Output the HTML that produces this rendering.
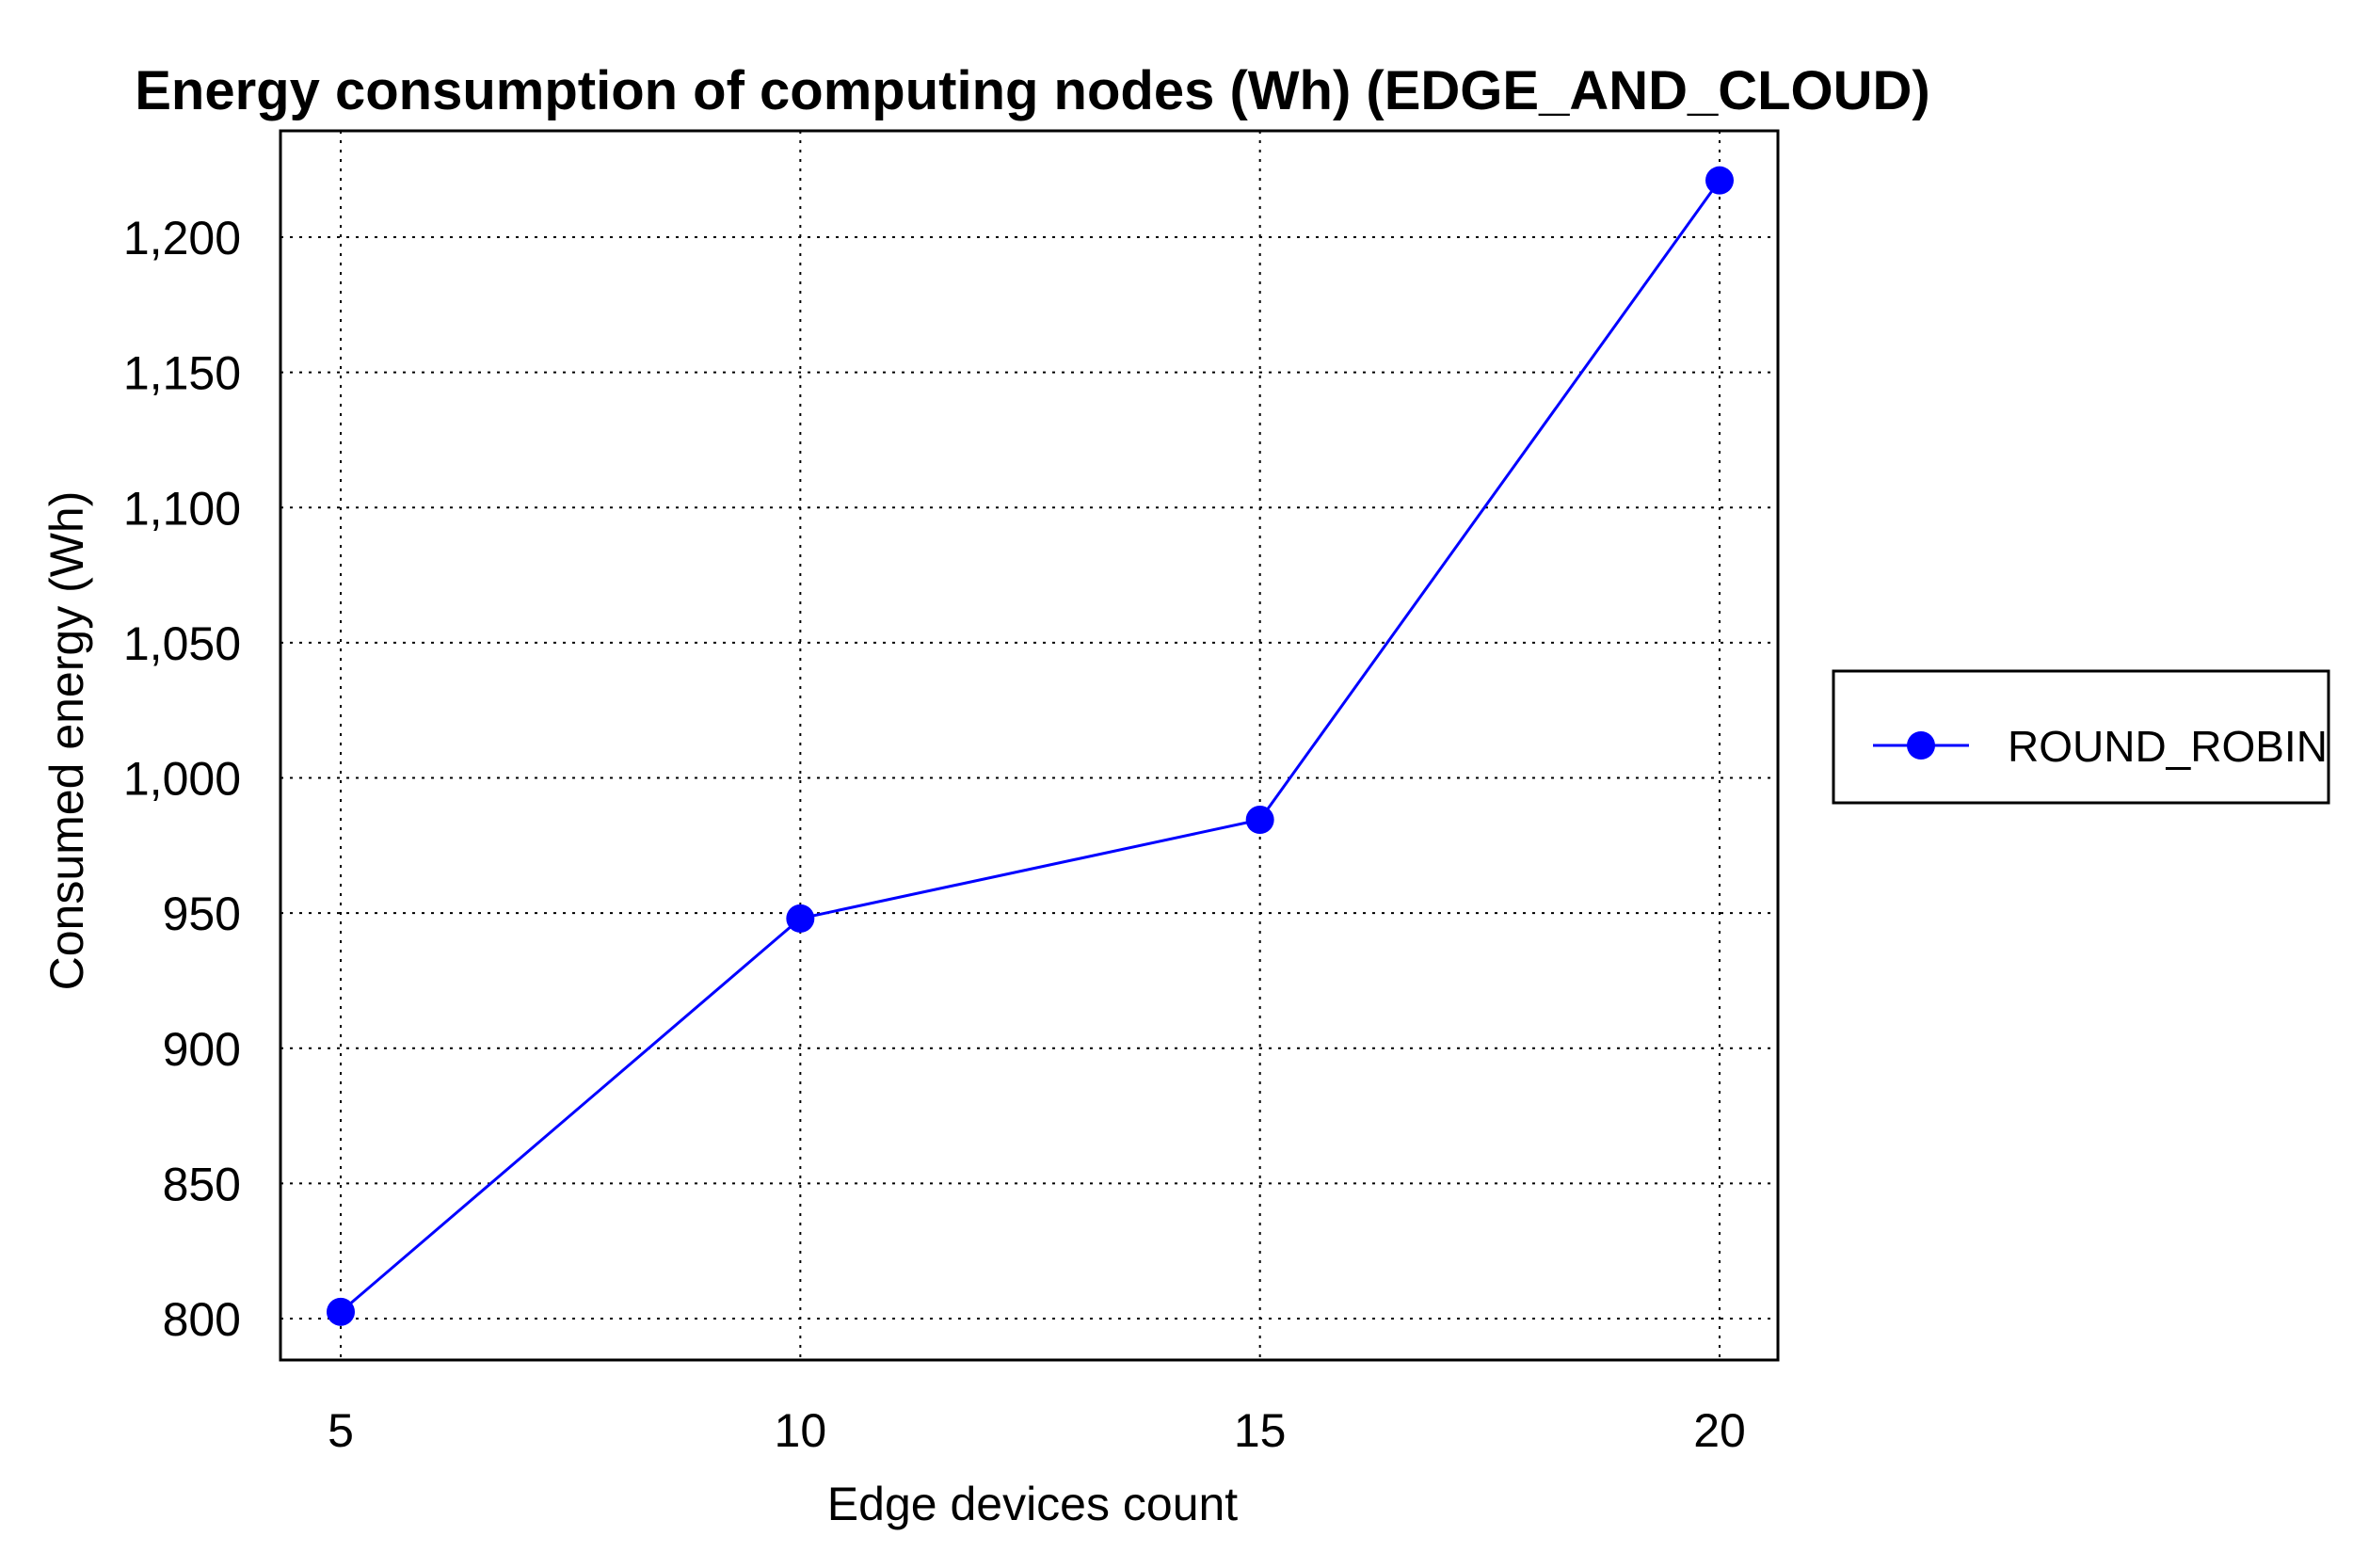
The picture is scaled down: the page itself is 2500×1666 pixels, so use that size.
<!DOCTYPE html>
<html><head><meta charset="utf-8"><style>
html,body{margin:0;padding:0;background:#fff;}
svg{display:block;font-family:"Liberation Sans",Arial,sans-serif;}
</style></head><body>
<svg id="chart" width="2500" height="1666" viewBox="0 0 2500 1666" xmlns="http://www.w3.org/2000/svg">
<rect width="2500" height="1666" fill="#fff"/>
<text x="1097" y="116" font-size="58" font-weight="bold" text-anchor="middle">Energy consumption of computing nodes (Wh) (EDGE_AND_CLOUD)</text>
<g id="grid"></g>
<g id="ticks"></g>
<rect x="298" y="139" width="1591" height="1306" fill="none" stroke="#000" stroke-width="3"/>
<g id="series"></g>
<text x="1097" y="1615" font-size="50" text-anchor="middle">Edge devices count</text>
<text transform="translate(88,787) rotate(-90)" font-size="50" text-anchor="middle">Consumed energy (Wh)</text>
<g>
<rect x="1948" y="713" width="526" height="140" fill="#fff" stroke="#000" stroke-width="3"/>
<line x1="1990" y1="792" x2="2092" y2="792" stroke="#0000ff" stroke-width="3"/>
<circle cx="2041" cy="792" r="15" fill="#0000ff"/>
<text x="2133" y="809" font-size="46">ROUND_ROBIN</text>
</g>
</svg>
<script>
const categories = [5, 10, 15, 20];
const values = [802.5, 948, 984.5, 1221];
const yTicks = [800, 850, 900, 950, 1000, 1050, 1100, 1150, 1200];
const yTickLabels = ["800", "850", "900", "950", "1,000", "1,050", "1,100", "1,150", "1,200"];

const NS = "http://www.w3.org/2000/svg";
function xScale(v){ return 362 + (v - 5) * (1827 - 362) / 15; }
function yScale(v){ return 1401 - (v - 800) * (1401 - 252) / 400; }
function mk(tag, attrs, parent){ const e = document.createElementNS(NS, tag); for (const k in attrs) e.setAttribute(k, attrs[k]); parent.appendChild(e); return e; }
const grid = document.getElementById('grid');
const ticks = document.getElementById('ticks');
const series = document.getElementById('series');

categories.forEach(c => {
  const x = xScale(c);
  const g = mk('line', {x1:x, y1:139, x2:x, y2:1445, stroke:'#000', 'stroke-width':2, 'stroke-dasharray':'3 7'}, grid);
  
  
  const t = mk('text', {x:x, y:1537, 'font-size':50, 'text-anchor':'middle'}, ticks);
  t.textContent = String(c);
  
  
});
yTicks.forEach((v, i) => {
  const y = yScale(v);
  const g = mk('line', {x1:298, y1:y, x2:1889, y2:y, stroke:'#000', 'stroke-width':2, 'stroke-dasharray':'3 7'}, grid);
  
  
  const t = mk('text', {x:256, y:y + 18, 'font-size':50, 'text-anchor':'end'}, ticks);
  t.textContent = yTickLabels[i];
  
  
});
const pts = categories.map((c, i) => xScale(c) + ',' + yScale(values[i])).join(' ');
const line = mk('polyline', {points:pts, fill:'none', stroke:'#0000ff', 'stroke-width':3}, series);


categories.forEach((c, i) => {
  const p = mk('circle', {cx:xScale(c), cy:yScale(values[i]), r:15, fill:'#0000ff'}, series);
  
  
});
</script>
</body></html>
